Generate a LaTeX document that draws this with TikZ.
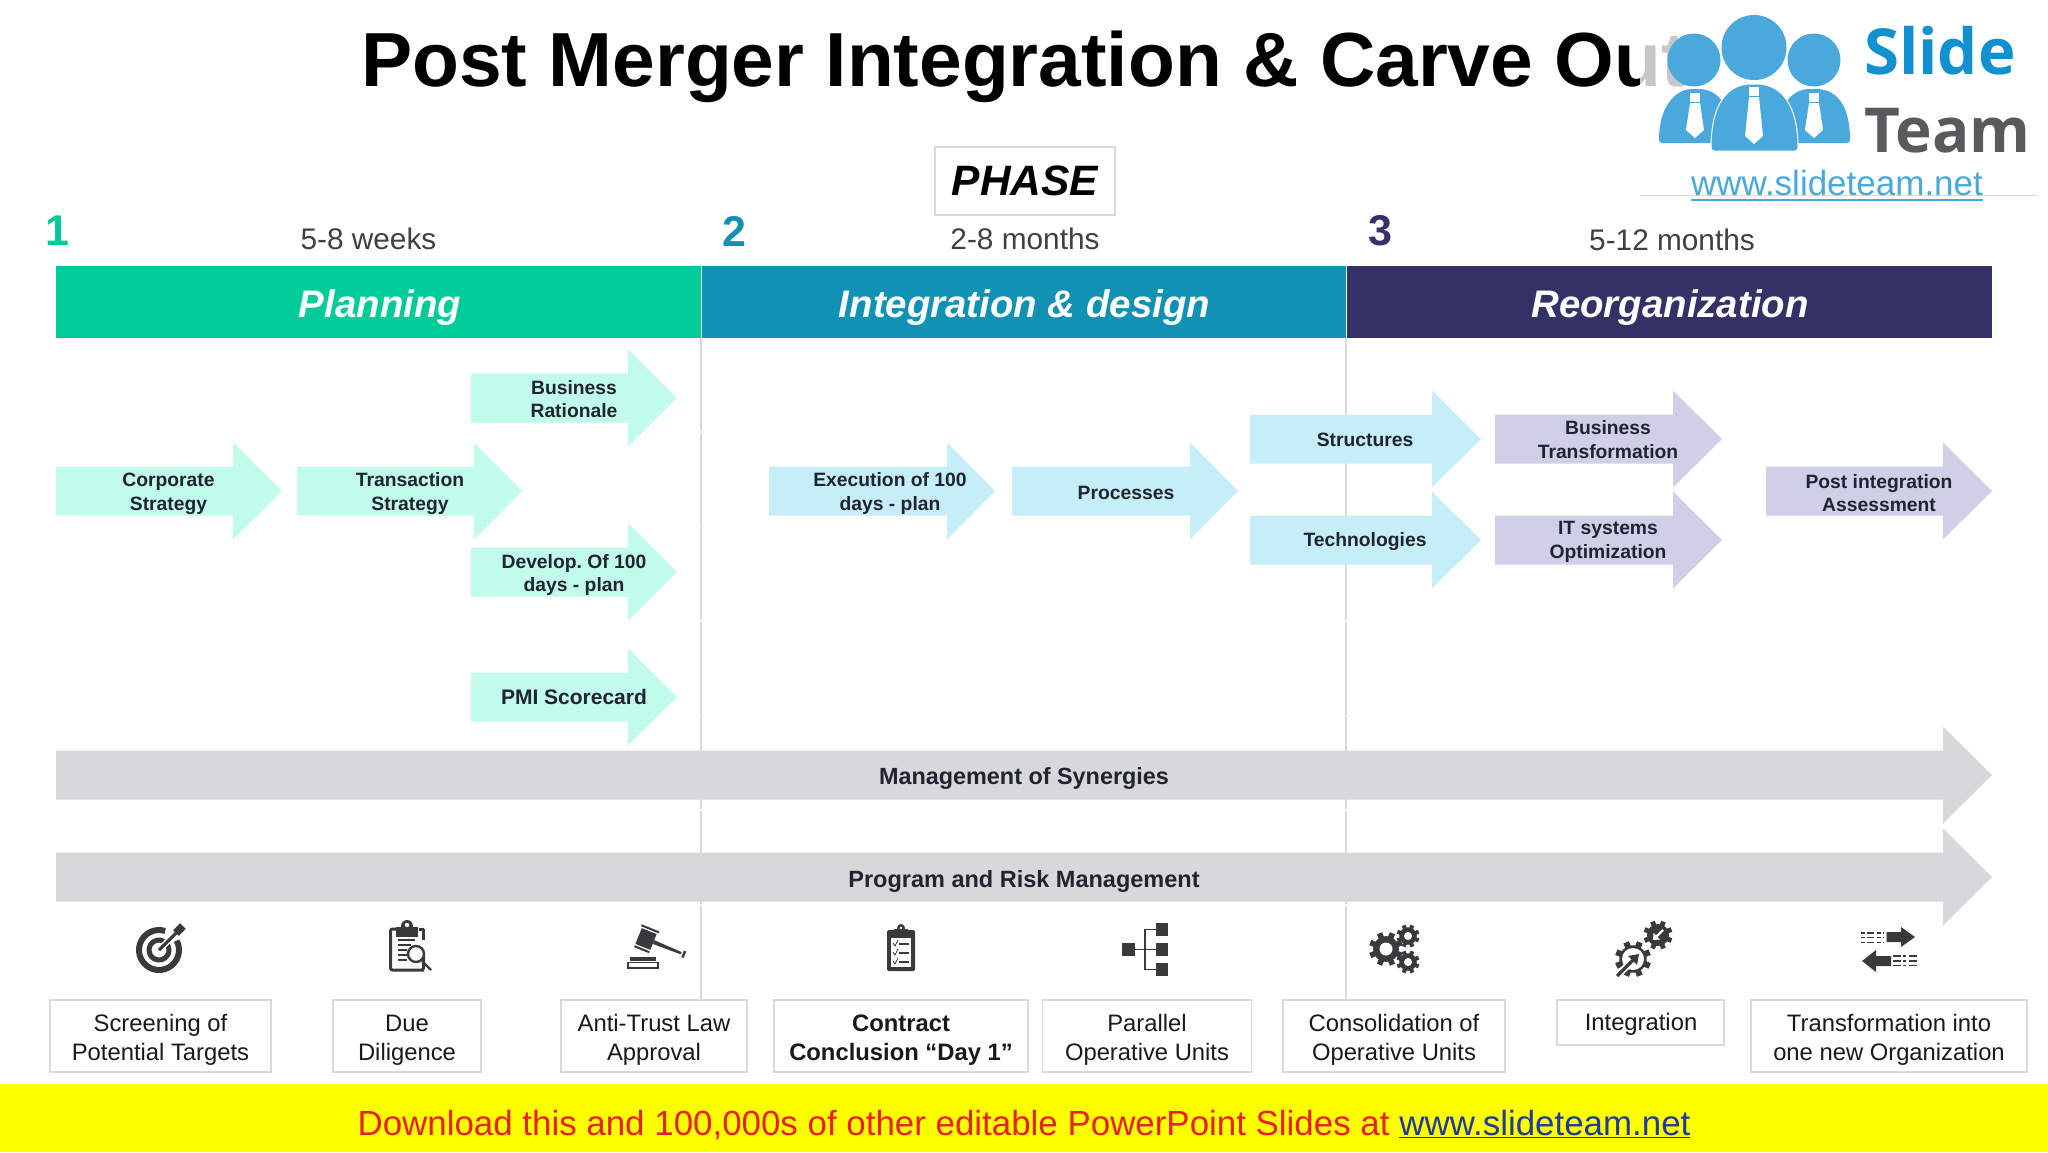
\documentclass[tikz,border=0pt]{standalone}
\usepackage{fontspec}
\setmainfont{Liberation Sans}
\newfontfamily\logofont{Open Sans}
\AtBeginDocument{\frenchspacing}
\definecolor{cPlan}{HTML}{00CC99}
\definecolor{cInt}{HTML}{1191B3}
\definecolor{cReo}{HTML}{333166}
\definecolor{cMint}{HTML}{C1FBEB}
\definecolor{cSky}{HTML}{C5EEF9}
\definecolor{cLav}{HTML}{CFD0E8}
\definecolor{cGrey}{HTML}{D8D7DA}
\definecolor{cLine}{HTML}{D9D9DC}
\definecolor{cIcon}{HTML}{3A3A3C}
\definecolor{cText}{HTML}{1F2430}
\definecolor{cLogo}{HTML}{4AA8DC}
\definecolor{cSlide}{HTML}{1191CF}
\definecolor{cTeam}{HTML}{5A5A5E}
\definecolor{cBanner}{HTML}{FFFF00}
\definecolor{cRed}{HTML}{E8201C}
\newcommand{\fs}[2]{\fontsize{#1}{#2}\selectfont}
\tikzset{
  barlabel/.style={text=white,font=\fs{38.4}{44}\bfseries\itshape,anchor=center},
  flowtext/.style={text=cText,font=\fs{19.3}{23.8}\bfseries,align=center,anchor=center,inner sep=0pt},
  durtext/.style={text=black!75,font=\fs{29.8}{34},anchor=center,inner sep=0pt},
  numtext/.style={font=\fs{43}{48}\bfseries,anchor=center,inner sep=0pt},
  stagebox/.style={draw=cLine,line width=1.6pt,fill=white,inner sep=0pt},
  stagetext/.style={text=black!90,font=\fs{23.8}{29},align=center,anchor=center,inner sep=0pt},
  divider/.style={draw=cLine,line width=2pt,dash pattern=on 93pt off 1.6pt},
  icf/.style={fill=cIcon,draw=none},
}
\newcommand{\flowarrow}[5]{% x0, head start, tip, yc, colour
  \fill[#5] (#1,#4-24.5) -- (#2,#4-24.5) -- (#2,#4-48.5) -- (#3,#4) -- (#2,#4+48.5) -- (#2,#4+24.5) -- (#1,#4+24.5) -- cycle;}
\newcommand{\gearicon}[5]{% x,y,radius,tooth half width,hole
  \begin{scope}[shift={(#1,#2)},y=1pt]
    \fill[icf] (0,0) circle ({#3*0.76});
    \foreach \k in {1,...,8}{\fill[icf,rotate=45*\k+22.5] (-#4,0) rectangle (#4,#3);}
    \fill[white] (0,0) circle (#5);
  \end{scope}}
\begin{document}
\begin{tikzpicture}[x=1pt,y=-1pt]
\useasboundingbox (0,0) rectangle (2048,1152);
\fill[white] (0,0) rectangle (2048,1152);

% title
\node[anchor=base west,inner sep=0pt,font=\fs{76.7}{80}\bfseries,text=black] (title) at (361,86) {Post Merger Integration \& Carve Out};

% phase
\node[draw=cLine,line width=1.6pt,fill=white,minimum width=180pt,minimum height=68pt,inner sep=0pt,font=\fs{42.5}{46}\bfseries\itshape] (phase) at (1025,181) {PHASE};

% numbers and durations
\node[numtext,text=cPlan] (n1) at (57,231) {1};
\node[numtext,text=cInt] (n2) at (734,231) {2};
\node[numtext,text=cReo] (n3) at (1380,231) {3};
\node[durtext] (d1) at (368.5,239) {5-8 weeks};
\node[durtext] (d2) at (1025,239) {2-8 months};
\node[durtext] (d3) at (1672,240) {5-12 months};

% bars
\fill[cPlan] (56,266) rectangle (700.5,338);
\fill[cInt] (702,266) rectangle (1345.5,338);
\fill[cReo] (1347,266) rectangle (1992,338);
\node[barlabel] (b1) at (380,308) {Planning};
\node[barlabel] (b2) at (1024.5,308) {Integration \& design};
\node[barlabel] (b3) at (1670,308) {Reorganization};

% stage boxes first named so that dividers can end on them
\node[stagebox,minimum width=221pt,minimum height=72pt] (s1) at (160.5,1036) {};
\node[stagebox,minimum width=148.5pt,minimum height=72pt] (s2) at (407,1036) {};
\node[stagebox,minimum width=186pt,minimum height=72pt] (s3) at (654,1036) {};
\node[stagebox,minimum width=254pt,minimum height=72pt] (s4) at (901,1036) {};
\node[stagebox,minimum width=209pt,minimum height=72pt] (s5) at (1147,1036) {};
\node[stagebox,minimum width=222pt,minimum height=72pt] (s6) at (1394,1036) {};
\node[stagebox,minimum width=167pt,minimum height=45pt] (s7) at (1640.5,1022.5) {};
\node[stagebox,minimum width=276pt,minimum height=72pt] (s8) at (1889,1036) {};
\node[stagetext] (t1) at (160.5,1040) {Screening of\\Potential Targets};
\node[stagetext] (t2) at (407,1040) {Due\\Diligence};
\node[stagetext] (t3) at (654,1040) {Anti-Trust Law\\Approval};
\node[stagetext,font=\fs{23.8}{29}\bfseries] (t4) at (901,1040) {Contract\\Conclusion “Day 1”};
\node[stagetext] (t5) at (1147,1040) {Parallel\\Operative Units};
\node[stagetext] (t6) at (1394,1040) {Consolidation of\\Operative Units};
\node[stagetext] (t7) at (1641,1024) {Integration};
\node[stagetext] (t8) at (1889,1040) {Transformation into\\one new Organization};

% dividers
\coordinate (v1top) at (701,338);
\coordinate (v2top) at (1346,338);
\draw[divider] (v1top) -- (v1top |- s3.north);
\draw[divider] (v2top) -- (v2top |- s6.north);

% flow arrows
\flowarrow{56}{233}{282}{491}{cMint}
\flowarrow{297}{474}{522}{491}{cMint}
\flowarrow{471}{628}{677}{398}{cMint}
\flowarrow{471}{628}{677}{572}{cMint}
\flowarrow{471}{628}{677}{697}{cMint}
\flowarrow{769}{947}{995}{491}{cSky}
\flowarrow{1012}{1190}{1238}{491}{cSky}
\flowarrow{1250}{1432}{1481}{439}{cSky}
\flowarrow{1250}{1432}{1481}{540}{cSky}
\flowarrow{1495}{1673}{1722}{439}{cLav}
\flowarrow{1495}{1673}{1722}{540}{cLav}
\flowarrow{1766}{1943}{1992}{491}{cLav}
\flowarrow{56}{1943}{1992}{775}{cGrey}
\flowarrow{56}{1943}{1992}{877}{cGrey}

\node[flowtext] (f1) at (168.5,493.5) {Corporate\\Strategy};
\node[flowtext] (f2) at (410,493.5) {Transaction\\Strategy};
\node[flowtext] (f3) at (574,399) {Business\\Rationale};
\node[flowtext] (f4) at (574,575) {Develop. Of 100\\days - plan};
\node[flowtext,font=\fs{21}{25}\bfseries] (f5) at (574,697) {PMI Scorecard};
\node[flowtext] (f6) at (890,493.5) {Execution of 100\\days - plan};
\node[flowtext] (f7) at (1126,493) {Processes};
\node[flowtext] (f8) at (1365,440) {Structures};
\node[flowtext] (f9) at (1365,542) {Technologies};
\node[flowtext] (f10) at (1608,439.5) {Business\\Transformation};
\node[flowtext] (f11) at (1608,542) {IT systems\\Optimization};
\node[flowtext] (f12) at (1879,493) {Post integration\\Assessment};
\node[flowtext,font=\fs{23.4}{27}\bfseries] (f13) at (1024,778) {Management of Synergies};
\node[flowtext,font=\fs{23.5}{27}\bfseries] (f14) at (1024,881) {Program and Risk Management};

% icon: target
\begin{scope}[shift={(159,950)},y=1pt]
  \draw[cIcon,line width=6pt] (72:20) arc[start angle=72,end angle=388,radius=20];
  \draw[cIcon,line width=5pt] (60:10) arc[start angle=60,end angle=395,radius=10];
  \draw[white,line width=6pt] (2,2) -- (20,20);
  \draw[cIcon,line width=3.2pt] (0,0) -- (18,18);
  \draw[cIcon,line width=8pt] (17,17) -- (24,24);
\end{scope}
% icon: clipboard with magnifier
\begin{scope}[shift={(407,950)},y=1pt]
  \draw[cIcon,line width=3pt,rounded corners=2pt] (-11,21) -- (-16.5,21) -- (-16.5,-20) -- (15,-20) -- (16.5,-20) -- (16.5,-3);
  \draw[cIcon,line width=3pt] (16.5,21) -- (12,21) (16.5,21) -- (16.5,10);
  \fill[icf] (-11,13) rectangle (11,23);
  \fill[icf] (0,24) circle (6);
  \fill[white] (0,25) circle (2.2);
  \draw[cIcon,line width=1.2pt] (-9,10) -- (8,10) (-9,5) -- (4,5) (-9,0) -- (0,0) (-9,-5) -- (0,-5) (-9,-10) -- (0,-10);
  \fill[white] (9,-4) circle (8);
  \draw[cIcon,line width=2.4pt] (9,-4) circle (8);
  \draw[cIcon,line width=2.4pt] (15,-11) -- (24,-20);
\end{scope}
% icon: gavel
\begin{scope}[shift={(646,939)},y=1pt,rotate=-22]
  \fill[icf] (-8,-8.5) rectangle (8,8.5);
  \fill[icf] (-9.5,10) rectangle (9.5,12);
  \fill[icf] (-8,-12) rectangle (8,-10);
  \fill[icf] (8,-2) -- (38,-1.2) -- (38,1.2) -- (8,2) -- cycle;
  \fill[icf] (39.5,-3.5) rectangle (42,3.5);
\end{scope}
\fill[icf] (630,957) rectangle (656,961);
\draw[cIcon,line width=1.8pt] (628,962.5) rectangle (658,968);
% icon: check clipboard
\begin{scope}[shift={(901,950)},y=1pt]
  \fill[icf,rounded corners=1.5pt] (-14,20) rectangle (14,-21);
  \fill[white] (-10,12) rectangle (10,-17);
  \fill[icf] (-7,16) rectangle (7,21);
  \fill[icf] (0,22) circle (4);
  \fill[white] (0,22) circle (1.4);
  \foreach \yy in {6,-3,-12}{
    \draw[cIcon,line width=.8pt] (-8,\yy+1) -- (-6,\yy-2) -- (-3,\yy+4);
    \draw[cIcon,line width=2pt] (-2,\yy) -- (8,\yy);
  }
\end{scope}
% icon: tree
\fill[icf] (1122,943) rectangle (1135,956);
\fill[icf] (1156,923) rectangle (1168,936);
\fill[icf] (1156,943) rectangle (1168,956);
\fill[icf] (1156,963) rectangle (1168,976);
\draw[cIcon,line width=1.8pt] (1135,949.5) -- (1156,949.5) (1156,929.5) -- (1145,929.5) -- (1145,969.5) -- (1156,969.5);
% icon: gears
\gearicon{1386}{949}{17}{2.8}{6.5}
\gearicon{1408}{936}{11.5}{2}{4}
\gearicon{1408}{962}{11.5}{2}{4}
% icon: integration
\gearicon{1633}{959}{18}{3}{11}
\gearicon{1658}{935}{14.5}{2.4}{0.1}
\begin{scope}[shift={(1658,935)},y=1pt]
  \draw[white,line width=2.4pt] (5,5) -- (-2,-2);
  \fill[white] (-5,-5) -- (2,-4.5) -- (-4.5,2) -- cycle;
\end{scope}
\begin{scope}[shift={(1633,959)},y=1pt]
  \draw[white,line width=7pt] (-17,-18) -- (0,-1);
  \draw[cIcon,line width=3.2pt] (-16,-17) -- (1,0);
  \fill[icf] (6,5) -- (-5,3) -- (4,-6) -- cycle;
\end{scope}
% icon: transformation
\fill[icf] (1886.5,932) -- (1901,932) -- (1901,927) -- (1915,937) -- (1901,947) -- (1901,942) -- (1886.5,942) -- cycle;
\fill[icf] (1891,956) -- (1876,956) -- (1876,950) -- (1862,961) -- (1876,972) -- (1876,966) -- (1891,966) -- cycle;
\foreach \yy in {933,937.5,942.5}{\draw[cIcon,line width=1.6pt,dash pattern=on 4pt off 2pt on 7pt off 3pt] (1861,\yy) -- (1884,\yy);}
\foreach \yy in {956,961,965.5}{\draw[cIcon,line width=1.6pt,dash pattern=on 8pt off 2pt on 3pt off 3pt] (1893,\yy) -- (1918,\yy);}

% footer
\fill[cBanner] (0,1084) rectangle (2048,1152);
\node[anchor=base,inner sep=0pt,font=\fs{34.9}{40},text=cRed] (foot) at (1024,1135) {Download this and 100,000s of other editable PowerPoint Slides at \textcolor[HTML]{1F3A9E}{\underline{www.slideteam.net}}};

% logo
\fill[white,fill opacity=.78] (1640,0) rectangle (2048,195);
\draw[cLine,line width=1pt] (1640,195) -- (2037,195);
\fill[cLogo] (1694,60) circle (26.5);
\fill[cLogo] (1814,60) circle (26.5);
\fill[cLogo] (1754,47.5) circle (32.5);
\fill[cLogo,rounded corners=3pt] (1659,143) .. controls (1659,103) and (1678,89) .. (1695,89) .. controls (1715,89) and (1730,100) .. (1733,143) -- cycle;
\fill[cLogo,rounded corners=3pt] (1775,143) .. controls (1778,100) and (1795,89) .. (1813,89) .. controls (1835,89) and (1850,103) .. (1850,143) -- cycle;
\draw[white,line width=1pt,fill=cLogo,rounded corners=3pt] (1711,151) .. controls (1711,103) and (1728,84) .. (1754,84) .. controls (1780,84) and (1798,103) .. (1798,151) -- cycle;
\foreach \cx/\top/\bot in {1695/93/138,1814/93/138,1754/87/144}{
  \fill[white] (\cx-5,\top) rectangle (\cx+5,\top+9);
  \fill[white] (\cx-5,\top+10) -- (\cx+5,\top+10) -- (\cx+9,\bot-8) -- (\cx,\bot) -- (\cx-9,\bot-8) -- cycle;
}
\node[anchor=base west,inner sep=0pt,font=\logofont\fs{63.5}{66}\bfseries,text=cSlide] (lslide) at (1864,74) {Slide};
\node[anchor=base west,inner sep=0pt,font=\logofont\fs{62}{66}\bfseries,text=cTeam] (lteam) at (1864,152) {Team};
\node[anchor=base,inner sep=0pt,font=\fs{35}{40},text=cLogo] (lurl) at (1837,195) {www.slideteam.net};
\draw[cLogo,line width=2.5pt] (lurl.base west)+(0,5) -- ([yshift=-5pt]lurl.base east);
\end{tikzpicture}
\end{document}
